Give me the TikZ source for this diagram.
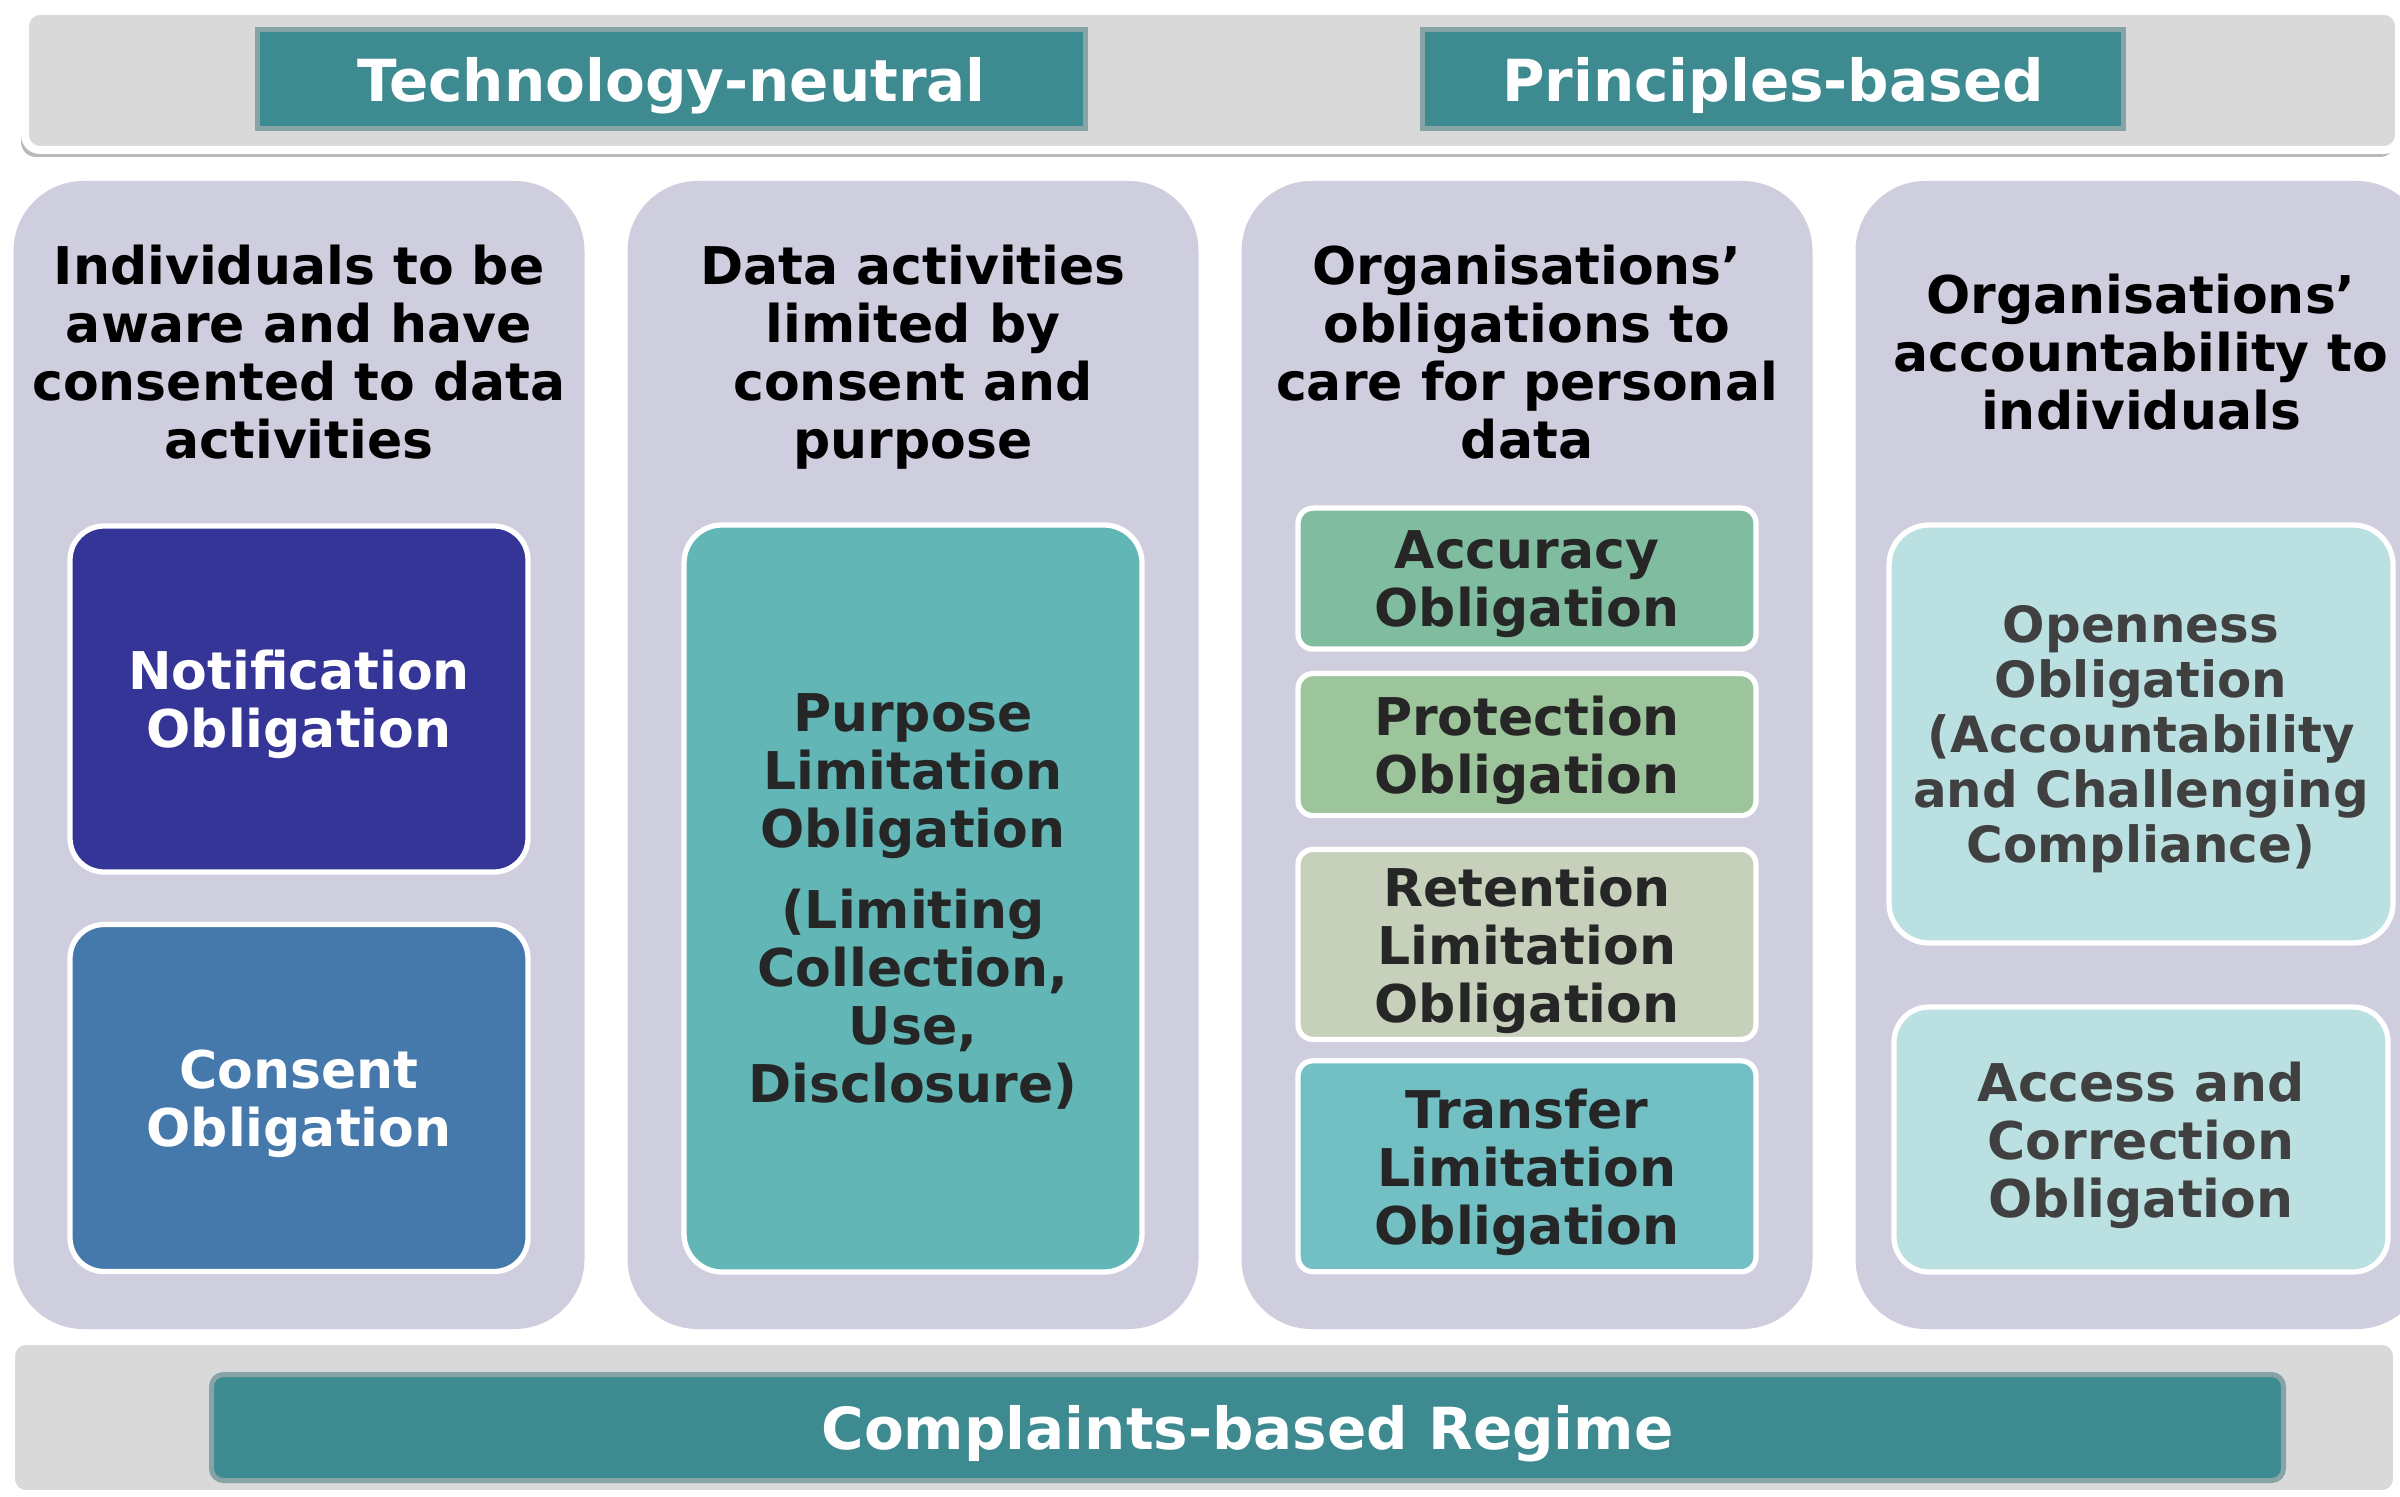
\documentclass[tikz,border=0pt]{standalone}
\usepackage{fontspec}
\setmainfont{DejaVu Sans}
\usepackage{tikz}

\definecolor{bandgray}{HTML}{D9D9D9}
\definecolor{tealhead}{HTML}{3D8B91}
\definecolor{tealedge}{HTML}{86A4A6}
\definecolor{lavender}{HTML}{CECEDF}
\definecolor{notifblue}{HTML}{353597}
\definecolor{consentblue}{HTML}{4578AB}
\definecolor{purposeteal}{HTML}{62B6B6}
\definecolor{accuracygreen}{HTML}{80BDA0}
\definecolor{protectgreen}{HTML}{9DC59C}
\definecolor{retainsage}{HTML}{C6D0BB}
\definecolor{transferteal}{HTML}{72BFC4}
\definecolor{openpale}{HTML}{BAE0E2}
\definecolor{darktext}{HTML}{262626}
\definecolor{softtext}{HTML}{404040}

\begin{document}
\begin{tikzpicture}[
		band/.style={fill=bandgray, draw=white, line width=0.08cm, rounded corners=0.15cm},
		tag/.style={fill=tealhead, draw=tealedge, line width=0.05cm, text=white, inner sep=0pt, text depth=0pt, font=\fontsize{16.5}{19}\selectfont\bfseries},
		pillar/.style={fill=lavender, rounded corners=0.7cm, minimum width=5.71cm, minimum height=11.48cm, inner sep=0pt},
		heading/.style={align=center, text depth=0pt, font=\fontsize{14.8}{16.5}\selectfont\bfseries},
		oblig/.style={draw=white, line width=1.5pt, align=center, inner sep=0pt, text depth=0pt, minimum width=4.58cm, text=darktext, font=\fontsize{14.8}{16.5}\selectfont\bfseries}
	]
		\useasboundingbox (0,0) rectangle (24,-14.96);
		\clip (0,0) rectangle (24,-14.96);
		
		\begin{scope}
		\fill[gray!55, rounded corners=0.15cm] (0.21,-0.17) rectangle (23.95,-1.57);
		\draw[band] (0.25,-0.11) rectangle (23.99,-1.50);
		\node[tag, minimum width=8.28cm, minimum height=0.99cm] (techNeutral) at (6.715,-0.79) {Technology-neutral};
		\node[tag, minimum width=7.01cm, minimum height=0.99cm] (principlesBased) at (17.73,-0.79) {Principles-based};
		\end{scope}
		
		\node[pillar] (awareCol) at (2.99,-7.55) {};
		\node[pillar] (purposeCol) at (9.13,-7.55) {};
		\node[pillar] (careCol) at (15.27,-7.55) {};
		\node[pillar] (accountCol) at (21.41,-7.55) {};
		
		\node[heading] (awareHead) at (2.99,-3.52) {Individuals to be\\aware and have\\consented to data\\activities};
		\node[heading] (purposeHead) at (9.13,-3.52) {Data activities\\limited by\\consent and\\purpose};
		\node[heading] (careHead) at (15.27,-3.52) {Organisations'\\obligations to\\care for personal\\data};
		\node[heading] (accountHead) at (21.41,-3.52) {Organisations'\\accountability to\\individuals};
		
		\node[oblig, fill=notifblue, text=white, minimum height=3.46cm, rounded corners=0.34cm] (notification) at (2.99,-6.99) {Notification\\Obligation};
		\node[oblig, fill=consentblue, text=white, minimum height=3.47cm, rounded corners=0.34cm] (consent) at (2.99,-10.98) {Consent\\Obligation};
		
		\node[oblig, fill=purposeteal, minimum height=7.47cm, rounded corners=0.38cm] (purposeLimit) at (9.13,-8.985) {Purpose\\Limitation\\Obligation\\[0.23cm](Limiting\\Collection,\\Use,\\Disclosure)};
		
		\node[oblig, fill=accuracygreen, minimum height=1.41cm, rounded corners=0.15cm] (accuracy) at (15.27,-5.786) {Accuracy\\Obligation};
		\node[oblig, fill=protectgreen, minimum height=1.42cm, rounded corners=0.15cm] (protection) at (15.27,-7.446) {Protection\\Obligation};
		\node[oblig, fill=retainsage, minimum height=1.90cm, rounded corners=0.15cm] (retention) at (15.27,-9.444) {Retention\\Limitation\\Obligation};
		\node[oblig, fill=transferteal, minimum height=2.11cm, rounded corners=0.15cm] (transfer) at (15.27,-11.663) {Transfer\\Limitation\\Obligation};
		
		\node[oblig, fill=openpale, text=softtext, minimum width=5.04cm, minimum height=4.18cm, rounded corners=0.4cm, font=\fontsize{14.2}{15.7}\selectfont\bfseries] (openness) at (21.41,-7.34) {Openness\\Obligation\\(Accountability\\and Challenging\\Compliance)};
		\node[oblig, fill=openpale, text=softtext, minimum width=4.94cm, minimum height=2.65cm, rounded corners=0.35cm] (accessCorrect) at (21.41,-11.395) {Access and\\Correction\\Obligation};
		
		\begin{scope}
		\draw[band] (0.11,-13.41) rectangle (23.97,-14.94);
		\node[tag, minimum width=20.72cm, minimum height=1.06cm, rounded corners=0.12cm] (complaints) at (12.475,-14.275) {Complaints-based Regime};
		\end{scope}
	\end{tikzpicture}
\end{document}
